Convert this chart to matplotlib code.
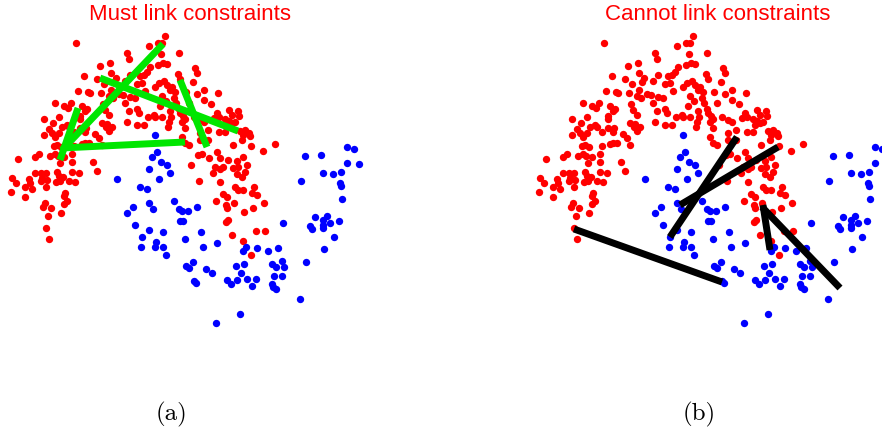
import numpy as np
import matplotlib.pyplot as plt

# two-moons style data set (screen-like units, y grows downward)
red_x = [76, 127, 129, 100, 110, 111, 130, 84, 97, 116, 114, 125, 104, 111, 78, 88, 90, 101, 119, 123,
         109, 113, 130, 55, 71, 64, 68, 82, 87, 85, 103, 125, 105, 109, 129, 80, 80, 44, 59, 53,
         127, 102, 107, 106, 112, 62, 69, 67, 80, 86, 49,
         165, 149, 158, 162, 161, 179, 163, 167, 158, 150, 147, 144, 140, 178, 180, 195, 197, 193, 159,
         164, 167, 172, 175, 170, 155, 145, 137, 142, 186, 197, 204, 218, 162, 166, 174, 176, 135, 189, 204,
         211, 160, 170, 179, 180, 183, 137, 139, 148, 154, 155, 162, 171, 185, 194, 200, 204, 217, 219, 214,
         229, 238, 232, 239, 225, 229, 232, 235, 227, 137, 144, 169, 168, 182, 185, 182, 200, 208, 219, 225,
         240, 245, 249, 243,
         44, 52, 55, 59, 74, 85, 95, 99, 102, 109, 54, 57, 61, 74, 82, 85, 89, 18, 35, 39,
         50, 55, 58, 64, 60, 72, 72, 93, 97, 35, 41, 46, 42, 41, 47, 57, 59, 63, 56, 60,
         72, 79, 69, 75, 12, 16, 29, 30, 25, 32, 46, 11, 25, 65, 64, 67, 64, 45, 43, 51,
         48, 61, 46, 49,
         185, 189, 200, 208, 233, 198, 202, 209, 217, 220, 228, 237, 191, 215, 220, 223, 233, 238, 213, 237,
         220, 199, 235, 238, 223, 227, 216, 226, 234, 227, 228, 226, 232,
         243, 250, 242, 251, 275, 263, 243, 247, 245, 242, 243, 254, 252, 257, 264, 253, 244, 256, 265, 243,
         251]
red_y = [43, 53, 59, 66, 63, 73, 75, 76, 79, 78, 82, 81, 84, 90, 91, 92, 93, 93, 94, 95,
         96, 98, 97, 103, 103, 106, 108, 106, 109, 111, 104, 103, 110, 115, 111, 116, 119, 119, 117, 123,
         122, 123, 124, 127, 127, 127, 127, 125, 128, 128, 129,
         36, 46, 43, 43, 54, 53, 63, 64, 65, 67, 72, 75, 76, 74, 79, 68, 73, 82, 83,
         81, 85, 87, 92, 90, 87, 91, 84, 83, 92, 94, 90, 93, 96, 101, 98, 103, 98, 103, 100,
         104, 106, 111, 109, 113, 116, 109, 113, 117, 115, 117, 117, 117, 119, 117, 120, 122, 113, 117, 118,
         110, 111, 115, 116, 119, 121, 123, 122, 125, 125, 125, 122, 127, 122, 128, 137, 133, 130, 132, 132,
         131, 130, 133, 135,
         135, 133, 137, 133, 132, 132, 134, 138, 145, 131, 146, 145, 147, 146, 144, 143, 143, 159, 157, 154,
         156, 154, 156, 157, 163, 154, 162, 162, 171, 173, 173, 173, 178, 181, 180, 172, 176, 177, 182, 181,
         172, 173, 181, 182, 178, 183, 179, 183, 187, 189, 187, 192, 197, 193, 196, 201, 204, 203, 207, 208,
         216, 213, 228, 239,
         143, 145, 140, 140, 145, 155, 154, 158, 152, 158, 160, 161, 165, 167, 169, 167, 168, 167, 173, 174,
         182, 181, 187, 190, 194, 197, 201, 205, 203, 208, 220, 222, 235,
         132, 136, 140, 146, 144, 151, 157, 165, 172, 177, 190, 187, 193, 195, 203, 208, 212, 231, 231, 241,
         255]

blue_x = [155, 157, 152, 161, 167, 149, 170, 159, 140, 147, 174, 149, 133, 153, 127, 179, 182, 188, 197, 180,
          183, 135, 149, 163, 201, 142, 156, 185, 217, 141, 155, 163, 203, 117,
          347, 354, 305, 321, 347, 359, 323, 333, 341, 301, 340, 341, 342, 283, 315, 327, 323, 330, 339, 310,
          312, 323, 323, 334, 246, 257, 278, 324,
          166, 243, 268, 193, 186, 189, 206, 212, 236, 244, 241, 272, 276, 282, 284, 274, 282, 194, 196, 227,
          231, 237, 247, 256, 252, 272, 273, 276, 240, 216, 300, 306]
blue_y = [135, 152, 157, 162, 165, 169, 173, 179, 187, 189, 201, 203, 207, 209, 213, 209, 211, 211, 207, 221,
          221, 225, 230, 232, 232, 237, 242, 239, 243, 247, 247, 247, 247, 179,
          147, 149, 156, 155, 163, 164, 173, 174, 172, 181, 183, 186, 199, 223, 217, 216, 220, 223, 221, 226,
          229, 225, 228, 237, 247, 248, 248, 249,
          255, 251, 251, 262, 266, 268, 269, 273, 266, 264, 273, 264, 267, 261, 267, 276, 276, 281, 283, 280,
          284, 280, 279, 279, 286, 284, 287, 289, 314, 323, 299, 262]

# constraint pairs (x0, y0, x1, y1)
must_links = [(163, 44, 62, 150), (78, 108, 60, 160), (100, 78, 238, 131),
              (180, 80, 207, 147), (62, 148, 185, 142)]
cannot_links = [(46, 229, 194, 282), (209, 137, 142, 237), (250, 147, 152, 205),
                (235, 205, 242, 250), (234, 207, 312, 288)]

titles = ["Must link constraints", "Cannot link constraints"]
captions = ["(a)", "(b)"]
link_sets = [must_links, cannot_links]
link_colors = ["#00e600", "black"]
xlims = [(0, 441), (-87, 354)]

fig = plt.figure(figsize=(8.82, 4.32), dpi=100)
for i in range(2):
    ax = fig.add_axes([0.5 * i, 0, 0.5, 1])
    ax.scatter(red_x, red_y, s=28, color="#ff0000", linewidths=0, zorder=2)
    ax.scatter(blue_x, blue_y, s=28, color="#0000ff", linewidths=0, zorder=2)
    for x0, y0, x1, y1 in link_sets[i]:
        ax.plot([x0, x1], [y0, y1], color=link_colors[i], lw=5, solid_capstyle="butt", zorder=3)
    ax.text(190, 14, titles[i], color="#ff0000", fontsize=16, fontfamily="Liberation Sans",
            ha="center", va="center")
    ax.text(171, 414, captions[i], fontsize=18, fontfamily="cmr10", ha="center", va="center")
    ax.set_xlim(*xlims[i])
    ax.set_ylim(432, 0)
    ax.axis("off")

fig.savefig("out.png", dpi=100)
